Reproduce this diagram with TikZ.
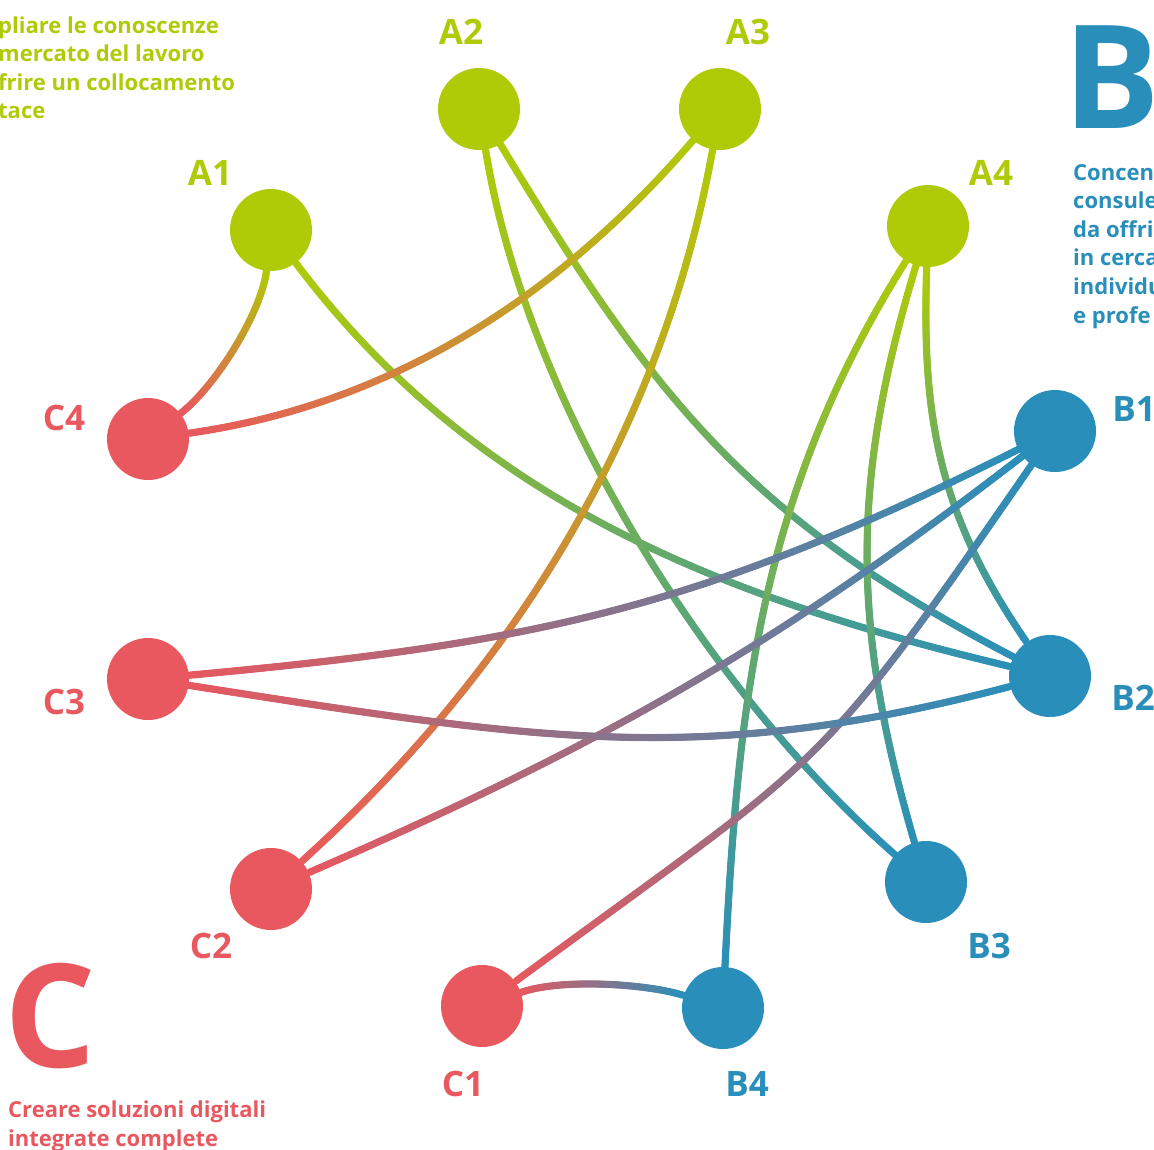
\documentclass[tikz,border=0pt]{standalone}
\usepackage{fontspec}
\setmainfont{Open Sans}
\usetikzlibrary{decorations.markings}

\definecolor{agreen}{HTML}{AFCB08}
\definecolor{bblue}{HTML}{298FBA}
\definecolor{cred}{HTML}{E8585E}

\pgfdeclarelayer{edges}
\pgfsetlayers{edges,main}

\tikzset{
  dot/.style={circle, fill=#1, minimum size=82pt, inner sep=0pt},
  tag/.style={text=#1, font=\fontsize{35}{35}\selectfont\bfseries, inner sep=0pt},
  para/.style={text=#1, font=\fontsize{22}{28}\selectfont\bfseries, inner sep=0pt, anchor=base west},
  big/.style={text=#1, font=\fontsize{144}{144}\selectfont\bfseries, inner sep=0pt, anchor=base west},
  % colour runs from #1 to #2 along the curve
  link/.style 2 args={postaction={decorate, decoration={markings,
      mark=between positions 0 and 1 step 1.5pt with {
        \pgfmathsetmacro\linkpct{100*(\pgfkeysvalueof{/pgf/decoration/mark info/distance from start}/\pgfdecoratedpathlength)}
        \fill[#2!\linkpct!#1] (0,0) circle (3.7pt);}}}},
}

\begin{document}
\begin{tikzpicture}[x=1pt,y=-1pt]
        \useasboundingbox (0,0) rectangle (1154,1149);

        % circles
        \node[dot=agreen] (A1) at (271,230) {}; \node[dot=agreen] (A2) at (479,109) {};
        \node[dot=agreen] (A3) at (720,109) {}; \node[dot=agreen] (A4) at (928,226) {};
        \node[dot=bblue] (B1) at (1055,431) {}; \node[dot=bblue] (B2) at (1050,676) {};
        \node[dot=bblue] (B3) at (926,882) {}; \node[dot=bblue] (B4) at (723,1008) {};
        \node[dot=cred] (C1) at (482,1006) {}; \node[dot=cred] (C2) at (271,889) {};
        \node[dot=cred] (C3) at (148,679) {}; \node[dot=cred] (C4) at (148,439) {};

        % labels
        \node[tag=agreen] (la1) at (210,173) {A1}; \node[tag=agreen] (la2) at (461,32) {A2};
        \node[tag=agreen] (la3) at (748,32) {A3}; \node[tag=agreen] (la4) at (991,173) {A4};
        \node[tag=bblue] (lb1) at (1134,409) {B1}; \node[tag=bblue] (lb2) at (1133,698) {B2};
        \node[tag=bblue] (lb3) at (989,946) {B3}; \node[tag=bblue] (lb4) at (747,1084) {B4};
        \node[tag=cred] (lc1) at (463,1084) {C1}; \node[tag=cred] (lc2) at (211,946) {C2};
        \node[tag=cred] (lc3) at (64,702) {C3}; \node[tag=cred] (lc4) at (64,418) {C4};

        % big letters and notes
        \node[big=bblue] (bigB) at (1063,128) {B};
        \node[big=cred] (bigC) at (4,1067) {C};
        \foreach \txt [count=\i] in {pliare le conoscenze, mercato del lavoro, frire un collocamento, tace}
          \node[para=agreen] (na\i) at (-2,{4.5+28.6*\i}) {\txt};
        \foreach \txt [count=\i] in {Concen, consule, da offri, in cerca, individu, e profe}
          \node[para=bblue] (nb\i) at (1073,{151.5+28.6*\i}) {\txt};
        \node[para=cred] (nc1) at (8,1117) {Creare soluzioni digitali};
        \node[para=cred] (nc2) at (8,1146) {integrate complete};

        \begin{pgfonlayer}{edges}
        \path[link={agreen}{cred}] (A1) .. controls (262,310) and (218,384) .. (C4);
        \path[link={agreen}{bblue}] (A1) .. controls (477,504) and (726,599) .. (B2);
        \path[link={agreen}{bblue}] (A2) .. controls (526,400) and (703,686) .. (B3);
        \path[link={agreen}{bblue}] (A2) .. controls (655,400) and (748,518) .. (B2);
        \path[link={agreen}{cred}] (A3) .. controls (561,294) and (395,404) .. (C4);
        \path[link={agreen}{cred}] (A3) .. controls (662,430) and (514,670) .. (C2);
        \path[link={agreen}{bblue}] (A4) .. controls (762,490) and (738,695) .. (B4);
        \path[link={agreen}{bblue}] (A4) .. controls (850,483) and (852,628) .. (B3);
        \path[link={agreen}{bblue}] (A4) .. controls (922,412) and (936,511) .. (B2);
        \path[link={bblue}{cred}] (B1) .. controls (702,608) and (539,643) .. (C3);
        \path[link={bblue}{cred}] (B1) .. controls (774,648) and (598,747) .. (C2);
        \path[link={bblue}{cred}] (B1) .. controls (812,783) and (827,752) .. (C1);
        \path[link={cred}{bblue}] (C3) .. controls (540,740) and (700,768) .. (B2);
        \path[link={cred}{bblue}] (C1) .. controls (562,978) and (648,984) .. (B4);
        \end{pgfonlayer}
\end{tikzpicture}
\end{document}
